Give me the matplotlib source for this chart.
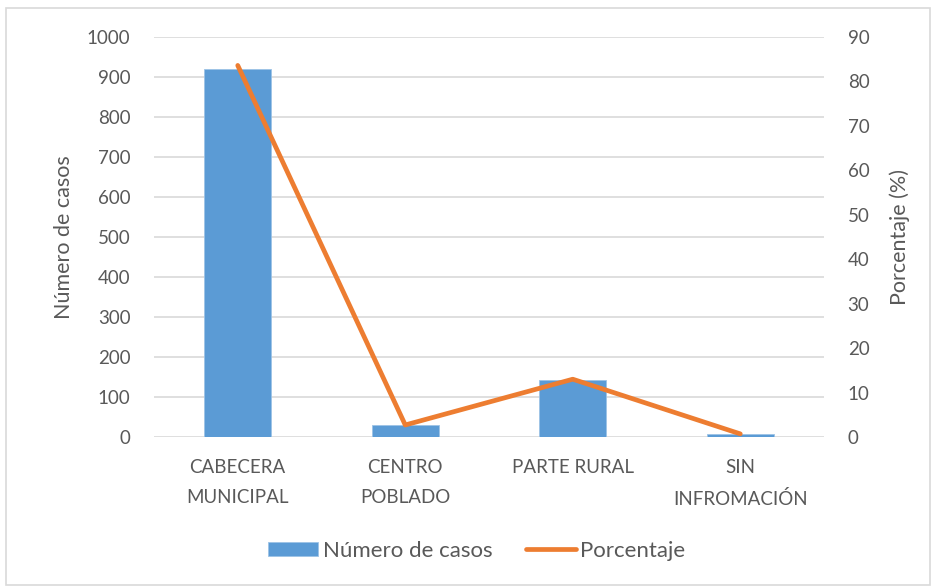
import matplotlib.pyplot as plt
import numpy as np

categories = ['CABECERA\nMUNICIPAL', 'CENTRO\nPOBLADO', 'PARTE RURAL', 'SIN\nINFROMACIÓN']
casos = [921, 30, 143, 8]
porcentaje = [83.6, 2.7, 13.0, 0.7]

plt.rcParams['font.family'] = ['Lato', 'DejaVu Sans']
gray = '#595959'

fig = plt.figure(figsize=(9.35, 5.86), dpi=100)
ax = fig.add_axes([0.1647, 0.2543, 0.7166, 0.6826])
x = np.arange(len(categories))

ax.bar(x, casos, width=0.4, color='#5B9BD5', edgecolor='#9DC3E6', linewidth=0.6,
       label='Número de casos', zorder=2)
ax.set_xlim(-0.5, 3.5)
ax.set_ylim(0, 1000)
ax.set_yticks(range(0, 1001, 100))
ax.yaxis.grid(True, color='#D9D9D9', linewidth=1.2, zorder=0)
ax.set_axisbelow(True)
for s in ax.spines.values():
    s.set_visible(False)
ax.set_xticks(x)
ax.set_xticklabels(categories, fontsize=13.5, color=gray, linespacing=1.9)
ax.tick_params(axis='both', length=0, colors=gray, labelsize=13.5)
ax.tick_params(axis='x', pad=16)
ax.tick_params(axis='y', pad=17)
ax.set_ylabel('Número de casos', fontsize=15.5, color=gray, labelpad=9)

ax2 = ax.twinx()
ax2.plot(x, porcentaje, color='#ED7D31', linewidth=3.4, solid_capstyle='round',
         label='Porcentaje', zorder=3)
ax2.set_ylim(0, 90)
ax2.set_yticks(range(0, 91, 10))
for s in ax2.spines.values():
    s.set_visible(False)
ax2.tick_params(axis='y', length=0, colors=gray, labelsize=13.5, pad=17)
ax2.set_ylabel('Porcentaje (%)', fontsize=15.5, color=gray, labelpad=14)

h1, l1 = ax.get_legend_handles_labels()
h2, l2 = ax2.get_legend_handles_labels()
fig.legend(h1 + h2, l1 + l2, loc='center', bbox_to_anchor=(0.51, 0.06), ncol=2,
           frameon=False, fontsize=16, labelcolor=gray, handlelength=2.25,
           handleheight=0.6, handletextpad=0.2, columnspacing=1.5)

fig.add_artist(plt.Rectangle((0.006, 0.002), 0.989, 0.984, transform=fig.transFigure,
                             fill=False, edgecolor='#D9D9D9', linewidth=1.2))

fig.savefig('out.png', dpi=100)
